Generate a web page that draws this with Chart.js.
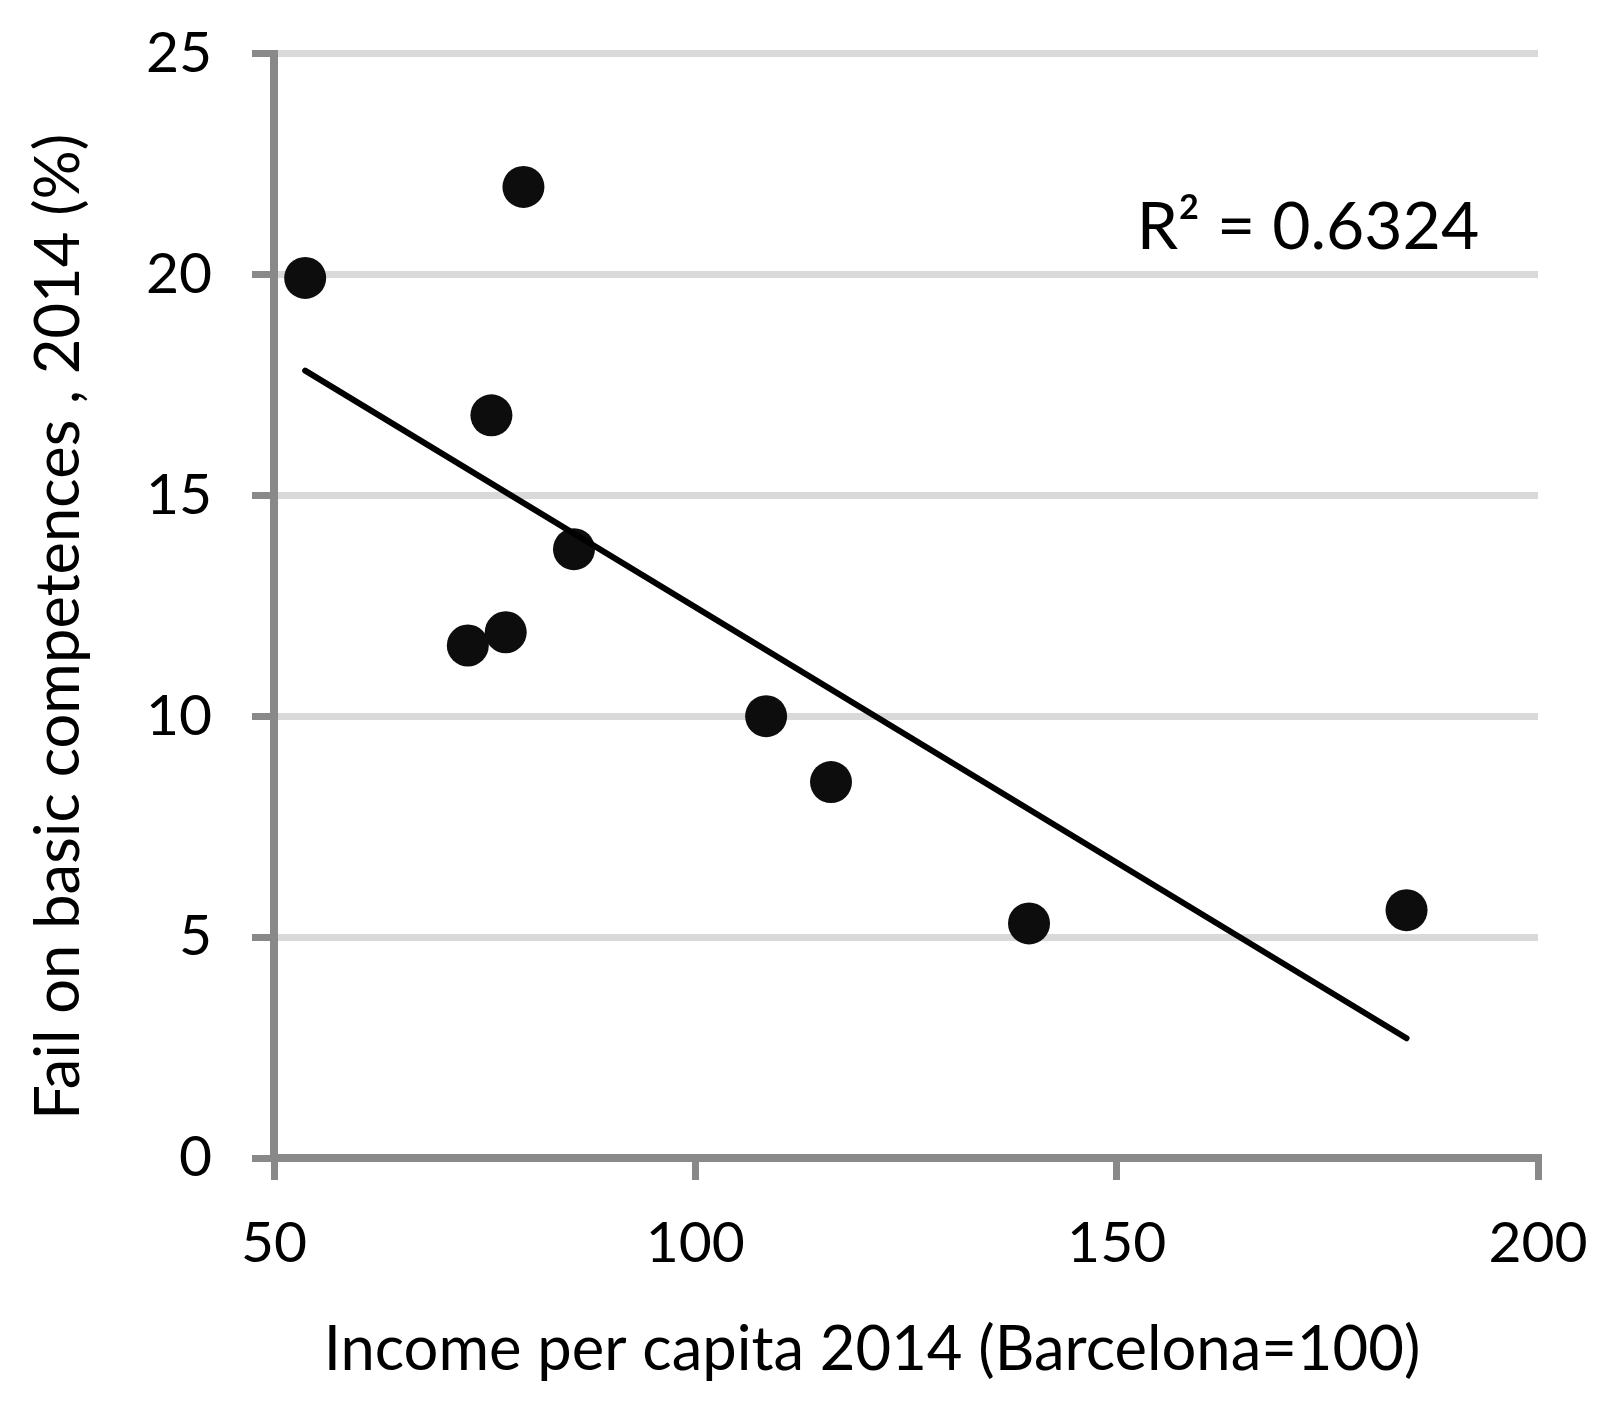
<!DOCTYPE html>
<html>
<head>
<meta charset="utf-8">
<script src="https://cdn.jsdelivr.net/npm/chart.js@4.4.1/dist/chart.umd.min.js"></script>
<style>
  html, body { margin: 0; padding: 0; background: #ffffff; }
  #wrap { width: 1606px; height: 1401px; position: relative; }
</style>
</head>
<body>
<div id="wrap"><canvas id="c"></canvas></div>
<script>
// ---- data ----
const income = [53.7, 79.6, 75.8, 85.6, 73.0, 77.5, 108.4, 116.1, 139.6, 184.4];
const failRate = [19.92, 21.98, 16.81, 13.78, 11.6, 11.9, 10.0, 8.51, 5.31, 5.61];
const xTicks = [50, 100, 150, 200];
const yTicks = [0, 5, 10, 15, 20, 25];
const xTitle = 'Income per capita 2014 (Barcelona=100)';
const yTitle = 'Fail on basic competences , 2014 (%)';
const r2Label = 'R\u00B2 = 0.6324';
const r2Pos = { x: 172.7, y: 21.05 };

// ---- least squares trend line ----
const n = income.length;
const mx = income.reduce((a, b) => a + b, 0) / n;
const my = failRate.reduce((a, b) => a + b, 0) / n;
let sxy = 0, sxx = 0;
for (let i = 0; i < n; i++) { sxy += (income[i] - mx) * (failRate[i] - my); sxx += (income[i] - mx) ** 2; }
const slope = sxy / sxx, icpt = my - slope * mx;
const xmin = Math.min(...income), xmax = Math.max(...income);
const trend = [{ x: xmin, y: icpt + slope * xmin }, { x: xmax, y: icpt + slope * xmax }];
const pts = income.map((v, i) => ({ x: v, y: failRate[i] }));

const FONT = 'Lato';
const AXIS = '#898989';
const GRID = '#d9d9d9';

const textPlugin = {
  id: 'texts',
  afterDraw(chart) {
    const { ctx, scales, chartArea } = chart;
    ctx.save();
    ctx.fillStyle = '#000';
    ctx.textAlign = 'center';
    ctx.textBaseline = 'middle';
    // R² annotation (placed in data units)
    ctx.font = '66px ' + FONT;
    ctx.fillText(r2Label, scales.x.getPixelForValue(r2Pos.x), scales.y.getPixelForValue(r2Pos.y));
    // axis titles
    ctx.font = '61.5px ' + FONT;
    ctx.fillText(xTitle, (chartArea.left + chartArea.right) / 2 - 34, chart.height - 51);
    ctx.translate(59.5, (chartArea.top + chartArea.bottom) / 2 + 21);
    ctx.rotate(-Math.PI / 2);
    ctx.fillText(yTitle, 0, 0);
    ctx.restore();
  }
};

new Chart(document.getElementById('c'), {
  type: 'scatter',
  data: {
    datasets: [
      {
        label: 'trend',
        data: trend,
        showLine: true,
        borderColor: '#000000',
        borderWidth: 6,
        pointRadius: 0,
        borderCapStyle: 'round',
        fill: false
      },
      {
        label: 'districts',
        data: pts,
        backgroundColor: '#0d0d0d',
        borderColor: '#0d0d0d',
        borderWidth: 0,
        pointRadius: 21,
        pointHoverRadius: 21
      }
    ]
  },
  options: {
    responsive: true,
    maintainAspectRatio: false,
    devicePixelRatio: 1,
    animation: false,
    events: [],
    layout: { padding: { left: 0, right: 68, top: 53.5, bottom: 0 } },
    plugins: { legend: { display: false }, tooltip: { enabled: false } },
    scales: {
      x: {
        type: 'linear',
        min: 50, max: 200,
        afterBuildTicks(s) { s.ticks = xTicks.map(v => ({ value: v })); },
        afterFit(s) { s.height = 243; s.paddingLeft = 0; s.paddingRight = 0; },
        border: { display: true, color: AXIS, width: 8 },
        grid: { drawOnChartArea: false, drawTicks: true, tickLength: 22, tickColor: AXIS, tickWidth: 7, color: AXIS, lineWidth: 7 },
        ticks: { color: '#000', font: { family: FONT, size: 57 }, padding: 29, maxRotation: 0 },
        title: { display: false }
      },
      y: {
        type: 'linear',
        min: 0, max: 25,
        afterBuildTicks(s) { s.ticks = yTicks.map(v => ({ value: v })); },
        afterFit(s) { s.width = 274; s.paddingTop = 0; s.paddingBottom = 0; },
        border: { display: true, color: AXIS, width: 8 },
        grid: { drawOnChartArea: true, drawTicks: true, tickLength: 22, tickColor: AXIS, tickWidth: 7, color: GRID, lineWidth: 7 },
        ticks: { color: '#000', font: { family: FONT, size: 57 }, padding: 40 },
        title: { display: false }
      }
    }
  },
  plugins: [textPlugin]
});
</script>
</body>
</html>
